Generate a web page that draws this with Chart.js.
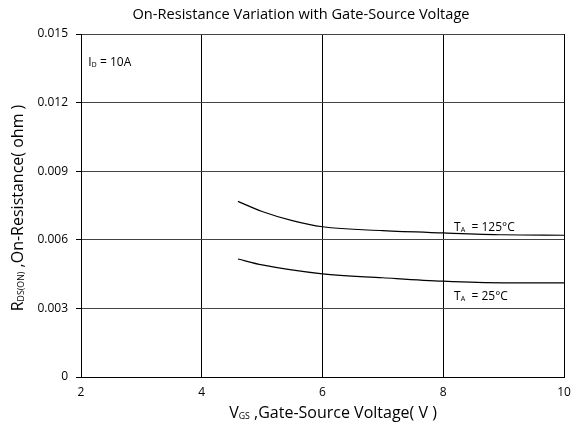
<!DOCTYPE html>
<html>
<head>
<meta charset="utf-8">
<script src="https://cdn.jsdelivr.net/npm/chart.js@4.4.0/dist/chart.umd.min.js"></script>
<style>
  html, body { margin: 0; padding: 0; background: #fff; }
  #wrap { width: 572px; height: 427px; }
</style>
</head>
<body>
<div id="wrap"><canvas id="chart" width="572" height="427"></canvas></div>
<script>
// --------------------
// Data
// --------------------
const vgs125 = [4.6, 5.0, 5.5, 6.0, 7.0, 8.0, 9.0, 10.0];
const rds125 = [0.00768, 0.00724, 0.00684, 0.00657, 0.0064, 0.0063, 0.00622, 0.0062];
const vgs25 = [4.6, 5.0, 6.0, 7.0, 8.0, 9.0, 10.0];
const rds25 = [0.00516, 0.0049, 0.00451, 0.00434, 0.00419, 0.00412, 0.00412];
const xTicks = [2, 4, 6, 8, 10];
const yTicks = [0, 0.003, 0.006, 0.009, 0.012, 0.015];

const FONT = "'Open Sans', 'Liberation Sans', sans-serif";

const toPoints = (xs, ys) => xs.map((x, i) => ({ x, y: ys[i] }));

// text with a small subscript, centred on x
function drawSubText(ctx, x, y, main, sub, rest, size) {
    ctx.font = `${size}px ${FONT}`;
    const w1 = ctx.measureText(main).width;
    ctx.font = `${size * 0.55}px ${FONT}`;
    const w2 = ctx.measureText(sub).width;
    ctx.font = `${size}px ${FONT}`;
    const w3 = ctx.measureText(rest).width;
    drawSubTextLeft(ctx, x - (w1 + w2 + w3) / 2, y, main, sub, rest, size, 0.55);
}

// same, starting at x
function drawSubTextLeft(ctx, x, y, main, sub, rest, size, subScale = 0.6) {
    ctx.textAlign = 'left';
    ctx.textBaseline = 'alphabetic';
    ctx.font = `${size}px ${FONT}`;
    ctx.fillText(main, x, y);
    const w1 = ctx.measureText(main).width;
    ctx.font = `${size * subScale}px ${FONT}`;
    ctx.fillText(sub, x + w1, y + 1);
    const w2 = ctx.measureText(sub).width;
    ctx.font = `${size}px ${FONT}`;
    ctx.fillText(rest, x + w1 + w2, y);
}

const annotations = {
    id: 'annotations',
    afterDraw(chart) {
        const ctx = chart.ctx;
        const xs = chart.scales.x;
        ctx.save();
        ctx.fillStyle = '#000';

        // title
        ctx.font = `14.6px ${FONT}`;
        ctx.textAlign = 'center';
        ctx.textBaseline = 'middle';
        ctx.fillText('On-Resistance Variation with Gate-Source Voltage', 301, 15);

        // x axis title
        drawSubText(ctx, 333, 418, 'V', 'GS', ' ,Gate-Source Voltage( V )', 16);

        // y axis title (rotated)
        ctx.save();
        ctx.translate(23, 208);
        ctx.rotate(-Math.PI / 2);
        drawSubText(ctx, 0, 0, 'R', 'DS(ON)', ' ,On-Resistance( ohm )', 16);
        ctx.restore();

        // in-plot labels
        drawSubTextLeft(ctx, xs.getPixelForValue(2.12), 66, 'I', 'D', ' = 10A', 12);
        drawSubTextLeft(ctx, xs.getPixelForValue(8.18), 231, 'T', 'A', '  = 125°C', 12);
        drawSubTextLeft(ctx, xs.getPixelForValue(8.18), 300, 'T', 'A', '  = 25°C', 12);
        ctx.restore();
    }
};

const lineStyle = {
    showLine: true,
    borderColor: '#000',
    borderWidth: 1.2,
    pointRadius: 0,
    fill: false,
    cubicInterpolationMode: 'monotone'
};

new Chart(document.getElementById('chart'), {
    type: 'scatter',
    data: {
        datasets: [
            { label: 'TA = 125°C', data: toPoints(vgs125, rds125), ...lineStyle },
            { label: 'TA = 25°C', data: toPoints(vgs25, rds25), ...lineStyle }
        ]
    },
    options: {
        responsive: false,
        animation: false,
        layout: { padding: { top: 34, right: 8, left: 0, bottom: 0 } },
        plugins: {
            legend: { display: false },
            tooltip: { enabled: false },
            title: { display: false }
        },
        scales: {
            x: {
                type: 'linear',
                min: 2, max: 10,
                afterBuildTicks: s => { s.ticks = xTicks.map(v => ({ value: v })); },
                afterFit: s => { s.height = 50; s.paddingRight = 0; s.paddingLeft = 0; },
                grid: { color: '#000', lineWidth: 1, drawTicks: false },
                border: { color: '#000' },
                ticks: { color: '#000', font: { family: FONT, size: 12 }, padding: 8, maxRotation: 0 }
            },
            y: {
                min: 0, max: 0.015,
                afterBuildTicks: s => { s.ticks = yTicks.map(v => ({ value: v })); },
                afterFit: s => { s.width = 81; s.paddingTop = 0; s.paddingBottom = 0; },
                grid: { color: '#444', lineWidth: 1, tickLength: 5, tickColor: '#000' },
                border: { color: '#000' },
                ticks: {
                    color: '#000',
                    font: { family: FONT, size: 12 },
                    padding: 8,
                    callback: v => v === 0 ? '0' : v.toFixed(3)
                }
            }
        }
    },
    plugins: [annotations]
});
</script>
</body>
</html>
